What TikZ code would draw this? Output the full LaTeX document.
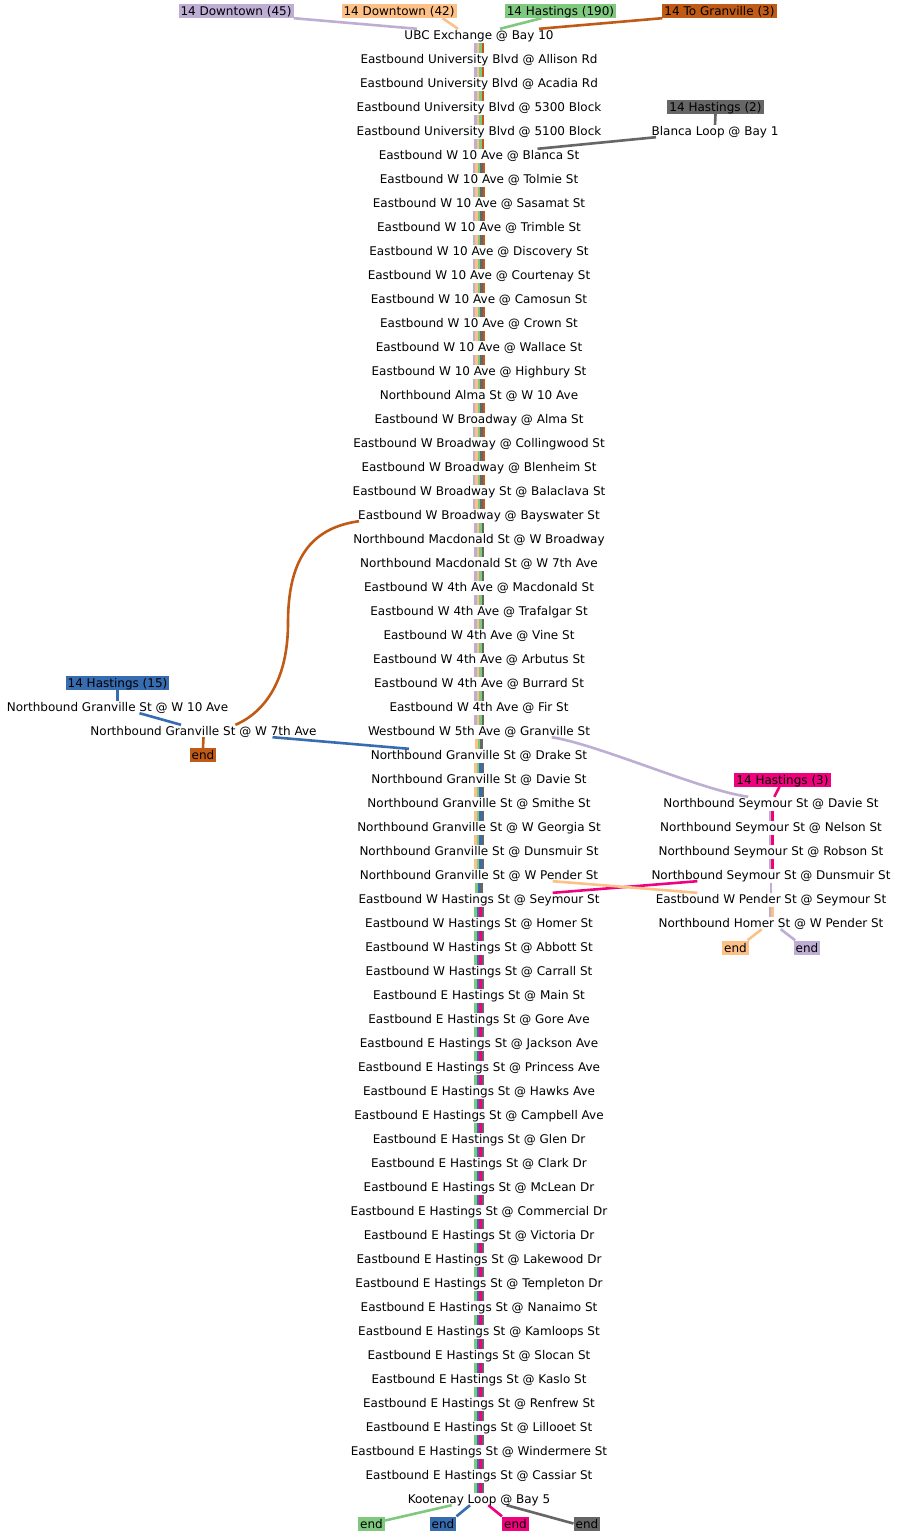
\documentclass[tikz,border=0pt]{standalone}
\usepackage{fontspec}
\setmainfont{DejaVu Sans}
\definecolor{cP}{HTML}{BEAED4}
\definecolor{cO}{HTML}{FDC086}
\definecolor{cG}{HTML}{7FC97F}
\definecolor{cBl}{HTML}{386CB0}
\definecolor{cPk}{HTML}{F0027F}
\definecolor{cBr}{HTML}{BF5B17}
\definecolor{cGy}{HTML}{666666}
\pgfdeclarelayer{bg}
\pgfdeclarelayer{paper}
\pgfsetlayers{paper,bg,main}
\newcommand\mkstripes[5]{%
  \foreach \sa in {#2,...,#3}{%
    \pgfmathtruncatemacro\sb{\sa+1}%
    \foreach \sc [count=\sk] in {#5}{%
      \pgfmathsetmacro\soff{(\sk-(#4+1)/2)*2.5}%
      \draw[\sc, line width=2.5pt] ([xshift=\soff pt, yshift=-2pt]#1\sa.south) -- ([xshift=\soff pt]#1\sb.north);
    }}}
\begin{document}
\begin{tikzpicture}[x=1pt,y=-1pt,
  font=\fontsize{12}{14}\selectfont,
  stn/.style={inner xsep=2pt, inner ysep=0pt, text height=10.6pt, text depth=1.4pt},
  lab/.style={fill=#1, text=black, inner xsep=2pt, inner ysep=1pt, text height=10.6pt, text depth=1.4pt},
  conn/.style={line width=2.6pt}]
\begin{pgfonlayer}{paper}
\fill[white] (0,0) rectangle (899,1536);
\end{pgfonlayer}
\useasboundingbox (0,0) rectangle (899,1536);
% main line
\foreach \t [count=\i from 0] in {UBC Exchange @ Bay 10,
Eastbound University Blvd @ Allison Rd,
Eastbound University Blvd @ Acadia Rd,
Eastbound University Blvd @ 5300 Block,
Eastbound University Blvd @ 5100 Block,
Eastbound W 10 Ave @ Blanca St,
Eastbound W 10 Ave @ Tolmie St,
Eastbound W 10 Ave @ Sasamat St,
Eastbound W 10 Ave @ Trimble St,
Eastbound W 10 Ave @ Discovery St,
Eastbound W 10 Ave @ Courtenay St,
Eastbound W 10 Ave @ Camosun St,
Eastbound W 10 Ave @ Crown St,
Eastbound W 10 Ave @ Wallace St,
Eastbound W 10 Ave @ Highbury St,
Northbound Alma St @ W 10 Ave,
Eastbound W Broadway @ Alma St,
Eastbound W Broadway @ Collingwood St,
Eastbound W Broadway @ Blenheim St,
Eastbound W Broadway St @ Balaclava St,
Eastbound W Broadway @ Bayswater St,
Northbound Macdonald St @ W Broadway,
Northbound Macdonald St @ W 7th Ave,
Eastbound W 4th Ave @ Macdonald St,
Eastbound W 4th Ave @ Trafalgar St,
Eastbound W 4th Ave @ Vine St,
Eastbound W 4th Ave @ Arbutus St,
Eastbound W 4th Ave @ Burrard St,
Eastbound W 4th Ave @ Fir St,
Westbound W 5th Ave @ Granville St,
Northbound Granville St @ Drake St,
Northbound Granville St @ Davie St,
Northbound Granville St @ Smithe St,
Northbound Granville St @ W Georgia St,
Northbound Granville St @ Dunsmuir St,
Northbound Granville St @ W Pender St,
Eastbound W Hastings St @ Seymour St,
Eastbound W Hastings St @ Homer St,
Eastbound W Hastings St @ Abbott St,
Eastbound W Hastings St @ Carrall St,
Eastbound E Hastings St @ Main St,
Eastbound E Hastings St @ Gore Ave,
Eastbound E Hastings St @ Jackson Ave,
Eastbound E Hastings St @ Princess Ave,
Eastbound E Hastings St @ Hawks Ave,
Eastbound E Hastings St @ Campbell Ave,
Eastbound E Hastings St @ Glen Dr,
Eastbound E Hastings St @ Clark Dr,
Eastbound E Hastings St @ McLean Dr,
Eastbound E Hastings St @ Commercial Dr,
Eastbound E Hastings St @ Victoria Dr,
Eastbound E Hastings St @ Lakewood Dr,
Eastbound E Hastings St @ Templeton Dr,
Eastbound E Hastings St @ Nanaimo St,
Eastbound E Hastings St @ Kamloops St,
Eastbound E Hastings St @ Slocan St,
Eastbound E Hastings St @ Kaslo St,
Eastbound E Hastings St @ Renfrew St,
Eastbound E Hastings St @ Lillooet St,
Eastbound E Hastings St @ Windermere St,
Eastbound E Hastings St @ Cassiar St,
Kootenay Loop @ Bay 5}
  \node[stn] (s\i) at (479,{35+24*\i}) {\t};
% right branch
\foreach \t [count=\i from 0] in {Northbound Seymour St @ Davie St,
Northbound Seymour St @ Nelson St,
Northbound Seymour St @ Robson St,
Northbound Seymour St @ Dunsmuir St,
Eastbound W Pender St @ Seymour St,
Northbound Homer St @ W Pender St}
  \node[stn] (r\i) at (771,{803+24*\i}) {\t};
% start labels
\node[lab=cP] (d45) at (236,11) {14 Downtown (45)};
\node[lab=cO] (d42) at (399,11) {14 Downtown (42)};
\node[lab=cG] (h190) at (560.5,11) {14 Hastings (190)};
\node[lab=cBr] (tg3) at (719.5,11) {14 To Granville (3)};
\node[lab=cGy] (h2) at (715.5,107) {14 Hastings (2)};
\node[stn] (bl) at (715,131) {Blanca Loop @ Bay 1};
\node[lab=cBl] (h15) at (117.5,683) {14 Hastings (15)};
\node[stn] (g10) at (117.5,707) {Northbound Granville St @ W 10 Ave};
\node[stn] (g7) at (203.5,731) {Northbound Granville St @ W 7th Ave};
\node[lab=cBr] (endbr) at (203,755) {end};
\node[lab=cPk] (h3) at (782.5,779.5) {14 Hastings (3)};
\node[lab=cO] (endo) at (735.5,947.5) {end};
\node[lab=cP] (endp) at (807,947.5) {end};
\node[lab=cG] (endg) at (371.5,1523.5) {end};
\node[lab=cBl] (endb) at (443,1523.5) {end};
\node[lab=cPk] (endpk) at (515.5,1523.5) {end};
\node[lab=cGy] (endgy) at (587,1523.5) {end};
\coordinate (bmid) at (288,623);
\begin{pgfonlayer}{bg}
\mkstripes{s}{0}{4}{4}{cP,cO,cG,cBr}
\mkstripes{s}{5}{19}{5}{cP,cO,cG,cGy,cBr}
\mkstripes{s}{20}{28}{4}{cP,cO,cG,cGy}
\mkstripes{s}{29}{29}{3}{cO,cG,cGy}
\mkstripes{s}{30}{34}{4}{cO,cG,cBl,cGy}
\mkstripes{s}{35}{35}{3}{cG,cBl,cGy}
\mkstripes{s}{36}{60}{4}{cG,cBl,cPk,cGy}
\mkstripes{r}{0}{2}{2}{cP,cPk}
\mkstripes{r}{3}{3}{1}{cP}
\mkstripes{r}{4}{4}{2}{cP,cO}
\draw[conn,cP] (d45.south east) -- ([xshift=-62pt]s0.north);
\draw[conn,cO] ([xshift=43.5pt]d42.south) -- ([xshift=-21pt]s0.north);
\draw[conn,cG] ([xshift=-19pt]h190.south) -- ([xshift=21pt]s0.north);
\draw[conn,cBr] (tg3.south west) -- ([xshift=60pt]s0.north);
\draw[conn,cGy] (h2.south) -- (bl.north);
\draw[conn,cGy] ([xshift=-59pt]bl.south) -- ([xshift=58.5pt]s5.north);
\draw[conn,cBl] (h15.south) -- (g10.north);
\draw[conn,cBl] ([xshift=22pt]g10.south) -- ([xshift=-22.5pt]g7.north);
\draw[conn,cBl] ([xshift=69pt]g7.south) -- ([xshift=-70pt]s30.north);
\draw[conn,cBr] (g7.south) -- (endbr.north);
\draw[conn,cBr] ([xshift=-120pt]s20.south) .. controls (310,528) and (288,560) .. (bmid)
  .. controls (288,680) and (265,712) .. ([xshift=32pt]g7.north);
\draw[conn,cP] ([xshift=72.7pt]s29.south) .. controls (600,745) and (700,790) .. ([xshift=-22.7pt]r0.north);
\draw[conn,cPk] ([xshift=-3pt]h3.south) -- ([xshift=3.3pt]r0.north);
\draw[conn,cPk] ([xshift=-73.7pt]r3.south) -- ([xshift=73.7pt]s36.north);
\draw[conn,cO] ([xshift=73.7pt]s35.south) -- ([xshift=-73.7pt]r4.north);
\draw[conn,cO] ([xshift=-9.3pt]r5.south) -- ([xshift=-1.5pt]endo.north east);
\draw[conn,cP] ([xshift=9.7pt]r5.south) -- ([xshift=1.7pt]endp.north west);
\draw[conn,cG] ([xshift=-27.3pt]s61.south) -- ([yshift=3pt]endg.east);
\draw[conn,cBl] ([xshift=-9pt]s61.south) -- (endb.north east);
\draw[conn,cPk] ([xshift=9.3pt]s61.south) -- (endpk.north west);
\draw[conn,cGy] ([xshift=27.7pt]s61.south) -- (endgy.west);
\end{pgfonlayer}
\end{tikzpicture}
\end{document}
